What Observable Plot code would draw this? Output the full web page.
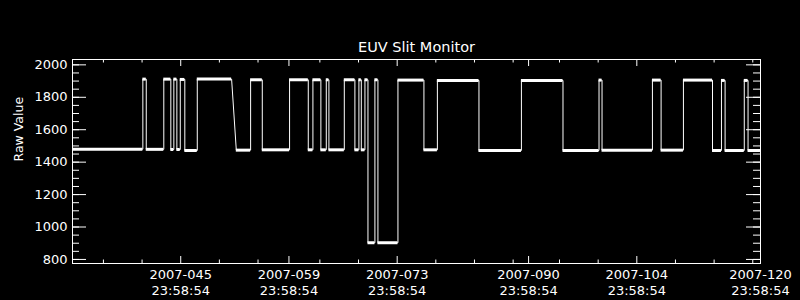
<!DOCTYPE html>
<html>
<head>
<meta charset="utf-8">
<script src="https://cdn.jsdelivr.net/npm/d3@7"></script>
<script src="https://cdn.jsdelivr.net/npm/@observablehq/plot@0.6"></script>
<style>
  html, body { margin: 0; padding: 0; background: #000; }
  #chart { width: 800px; height: 300px; }
</style>
</head>
<body>
<div id="chart"></div>
<script>
// ---- data (day-of-year 2007, fractional) ----
const title = "EUV Slit Monitor";
const yLabel = "Raw Value";
const segStart = [31.999, 41.10, 41.54, 43.81, 44.72, 45.11, 45.50, 45.94, 46.53, 48.14, 53.19, 55.04, 56.55, 60.08, 62.50, 63.10, 64.13, 64.83, 65.17, 67.16, 68.53, 69.05, 69.36, 69.83, 70.22, 71.12, 71.51, 74.10, 77.46, 79.20, 84.58, 90.07, 95.45, 100.11, 100.50, 107.02, 108.14, 111.03, 114.79, 115.95, 116.42, 118.90, 119.39];
const segEnd = [41.10, 41.54, 43.81, 44.72, 45.11, 45.50, 45.94, 46.53, 48.14, 52.58, 55.04, 56.55, 60.08, 62.50, 63.10, 64.13, 64.83, 65.17, 67.16, 68.53, 69.05, 69.36, 69.83, 70.22, 71.12, 71.51, 74.10, 77.46, 79.20, 84.58, 90.07, 95.45, 100.11, 100.50, 107.02, 108.14, 111.03, 114.79, 115.95, 116.42, 118.90, 119.39, 120.999];
const segValue = [1480, 1912, 1479, 1912, 1478, 1912, 1478, 1910, 1472, 1912, 1474, 1908, 1476, 1908, 1476, 1908, 1476, 1908, 1476, 1908, 1476, 1908, 1476, 1908, 903, 1908, 903, 1906, 1476, 1904, 1472, 1904, 1472, 1906, 1474, 1906, 1474, 1906, 1472, 1904, 1472, 1904, 1472];

const xDomainDays = [31, 120];          // day 031 23:58:54 to day 120 23:58:54
const xMajorDays = [45, 59, 73, 90, 104, 120];
const xMinorDays = [35, 40, 50, 55, 63, 68, 78, 83, 88, 94, 99, 109, 114, 119];
const yDomain = [775, 2033];
const yMajor = [800, 1000, 1200, 1400, 1600, 1800, 2000];
const yMinor = d3.range(800, 2001, 50);

// ---- helpers ----
const t0 = Date.UTC(2007, 0, 1);
const dayTime = (23 * 3600 + 58 * 60 + 54) / 86400;
const fromDoy = (d) => new Date(t0 + (d - 1) * 864e5);
const tickDate = (day) => fromDoy(day + dayTime);
const fmtLabel = (d) => d3.utcFormat("%Y-%j")(d) + "\n" + d3.utcFormat("%H:%M:%S")(d);

const segments = segStart.map((s, i) => ({x1: fromDoy(s), x2: fromDoy(segEnd[i]), y: segValue[i]}));
const points = segments.flatMap((s) => [{x: s.x1, y: s.y}, {x: s.x2, y: s.y}]);

const W = 800, H = 300, mL = 72, mR = 40, mT = 59, mB = 37;
const fw = W - mL - mR, fh = H - mT - mB;
const majorDates = xMajorDays.map(tickDate);
const minorDates = xMinorDays.map(tickDate);
const font = "DejaVu Sans";

const chart = Plot.plot({
  width: W, height: H,
  marginLeft: mL, marginRight: mR, marginTop: mT, marginBottom: mB,
  style: {background: "black", color: "white", fontFamily: font},
  x: {type: "utc", domain: xDomainDays.map(tickDate), axis: null},
  y: {domain: yDomain, axis: null},
  marks: [
    // y ticks, left & right, pointing inward
    Plot.ruleY(yMajor, {y: d => d, insetRight: fw - 14, stroke: "white"}),
    Plot.ruleY(yMinor, {y: d => d, insetRight: fw - 7, stroke: "white"}),
    Plot.ruleY(yMajor, {y: d => d, insetLeft: fw - 14, stroke: "white"}),
    Plot.ruleY(yMinor, {y: d => d, insetLeft: fw - 7, stroke: "white"}),
    // x ticks, bottom & top
    Plot.ruleX(majorDates, {x: d => d, insetTop: fh - 7, stroke: "white"}),
    Plot.ruleX(minorDates, {x: d => d, insetTop: fh - 3.5, stroke: "white"}),
    Plot.ruleX(majorDates, {x: d => d, insetBottom: fh - 7, stroke: "white"}),
    Plot.ruleX(minorDates, {x: d => d, insetBottom: fh - 3.5, stroke: "white"}),
    // data
    Plot.line(points, {x: "x", y: "y", stroke: "white", strokeWidth: 1}),
    Plot.ruleY(segments, {x1: "x1", x2: "x2", y: "y", stroke: "white", strokeWidth: 3}),
    Plot.frame({stroke: "white"}),
    // labels
    Plot.text(yMajor, {y: d => d, text: d => String(d), frameAnchor: "left", textAnchor: "end", dx: -5, fill: "white", fontSize: 13}),
    Plot.text(majorDates, {x: d => d, text: fmtLabel, frameAnchor: "bottom", lineAnchor: "top", dy: 5, lineHeight: 1.17, fill: "white", fontSize: 13}),
    Plot.text([title], {text: d => d, frameAnchor: "top", lineAnchor: "bottom", dy: -8, fill: "white", fontSize: 14.5}),
    Plot.text([yLabel], {text: d => d, frameAnchor: "left", rotate: -90, dx: -54, fill: "white", fontSize: 12.5})
  ]
});
document.getElementById("chart").appendChild(chart);
</script>
</body>
</html>
